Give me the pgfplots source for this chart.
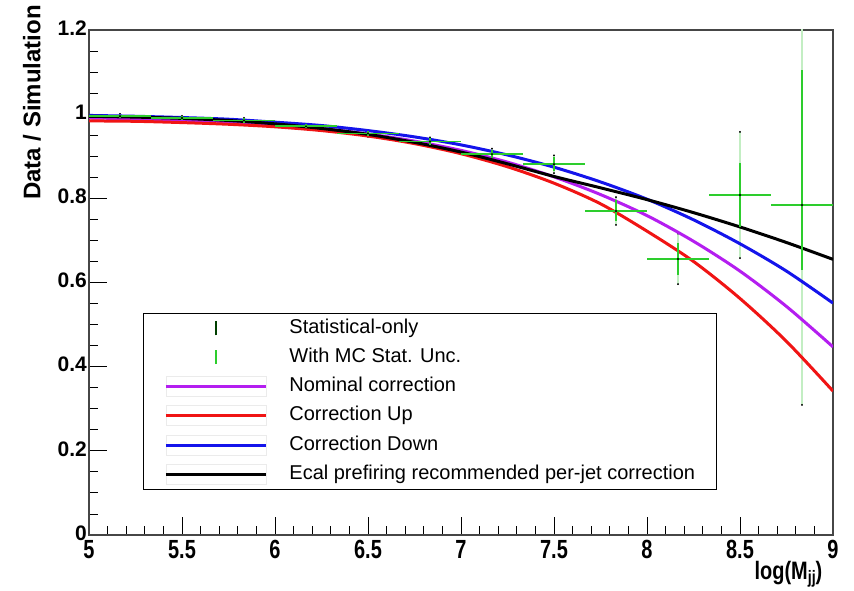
\documentclass[border=0pt]{standalone}
\usepackage{pgfplots}
\pgfplotsset{compat=1.18}
\usepackage{pgfplotstable}
\usepackage{graphicx}
\usepackage{fontspec}
\setmainfont{Liberation Sans}
\definecolor{mcgreen}{RGB}{45,205,45}
\definecolor{statgreen}{RGB}{195,238,195}
\definecolor{nomcol}{RGB}{180,30,240}
\definecolor{upcol}{RGB}{240,20,20}
\definecolor{downcol}{RGB}{20,20,235}
\definecolor{framegray}{RGB}{70,70,70}

\pgfplotstableread{
x    mag   red   blue  black
5.00 0.991 0.984 0.997 0.995
5.25 0.989 0.983 0.995 0.993
5.50 0.986 0.980 0.992 0.990
5.75 0.982 0.976 0.988 0.985
6.00 0.975 0.970 0.981 0.977
6.25 0.966 0.961 0.973 0.966
6.50 0.953 0.948 0.961 0.952
6.75 0.936 0.930 0.946 0.933
7.00 0.914 0.906 0.927 0.910
7.25 0.886 0.875 0.903 0.882
7.50 0.851 0.836 0.874 0.852
7.75 0.809 0.787 0.839 0.825
8.00 0.759 0.722 0.798 0.797
8.25 0.698 0.650 0.749 0.766
8.50 0.627 0.562 0.692 0.732
8.75 0.543 0.460 0.627 0.695
9.00 0.447 0.342 0.551 0.655
}\curves

\pgfplotstableread{
x      y     ex     stat  mcp   mcm
5.1667 0.995 0.1667 0.006 0.004 0.004
5.5000 0.991 0.1667 0.005 0.004 0.004
5.8333 0.985 0.1667 0.006 0.005 0.005
6.1667 0.971 0.1667 0.006 0.005 0.005
6.5000 0.954 0.1667 0.008 0.006 0.006
6.8333 0.935 0.1667 0.010 0.008 0.008
7.1667 0.905 0.1667 0.013 0.010 0.010
7.5000 0.881 0.1667 0.021 0.017 0.017
7.8333 0.770 0.1667 0.033 0.025 0.025
8.1667 0.656 0.1667 0.060 0.038 0.038
8.5000 0.808 0.1667 0.150 0.077 0.077
8.8333 0.784 0.1667 0.475 0.321 0.154
}\points

\begin{document}
\begin{tikzpicture}
\begin{axis}[
  scale only axis, width=744pt, height=505pt,
  xmin=5, xmax=9, ymin=0, ymax=1.2,
  xtick={5,5.5,6,6.5,7,7.5,8,8.5,9},
  ytick={0,0.2,0.4,0.6,0.8,1,1.2},
  minor x tick num=4, minor y tick num=3,
  xtick pos=bottom, ytick pos=left, tick align=inside,
  major tick length=18pt, minor tick length=9pt,
  axis line style={framegray, line width=1.6pt},
  tick style={black, line width=0.9pt},
  /pgf/number format/assume math mode=true,
  tick label style={font=\fontsize{21}{21}\selectfont\bfseries},
  xticklabel={\scalebox{0.95}[1.25]{\pgfmathprintnumber{\tick}}},
  xticklabel style={inner ysep=5pt},
  yticklabel style={inner xsep=2pt, yshift=2pt},
  xlabel={\scalebox{0.95}[1.2]{log(M\raisebox{-3.5pt}{\fontsize{15}{15}\selectfont jj})}},
  xlabel style={at={(axis description cs:0.986,-0.052)}, anchor=north east, inner sep=0pt, font=\fontsize{21}{21}\selectfont\bfseries},
  ylabel={Data / Simulation},
  ylabel style={at={(axis description cs:-0.0766,1.0495)}, anchor=east, inner sep=0pt, font=\fontsize{24}{24}\selectfont\bfseries},
  legend cell align=left,
  legend style={at={(axis description cs:0.0726,0.4396)}, anchor=north west,
    draw=black, line width=0.8pt, fill=white,
    font=\fontsize{20}{20}\selectfont,
    inner xsep=21pt, inner ysep=5pt, row sep=8.8pt, column sep=22pt,
    nodes={inner sep=0pt, text height=15pt, text depth=5pt}},
]
\addlegendimage{legend image code/.code={\path[draw=none] (0pt,0pt) -- (100pt,0pt); \draw[black!50!green!50!black, line width=1.3pt] (50pt,-7pt) -- (50pt,7pt);}}
\addlegendentry{Statistical-only}
\addlegendimage{legend image code/.code={\path[draw=none] (0pt,0pt) -- (100pt,0pt); \draw[mcgreen, line width=1.5pt] (50pt,-7pt) -- (50pt,7pt);}}
\addlegendentry{With MC Stat. Unc.}
\addlegendimage{legend image code/.code={\draw[black!8, line width=0.6pt] (0pt,-10pt) rectangle (100pt,10pt); \draw[nomcol, line width=3pt] (0pt,0pt) -- (100pt,0pt);}}
\addlegendentry{Nominal correction}
\addlegendimage{legend image code/.code={\draw[black!8, line width=0.6pt] (0pt,-10pt) rectangle (100pt,10pt); \draw[upcol, line width=3pt] (0pt,0pt) -- (100pt,0pt);}}
\addlegendentry{Correction Up}
\addlegendimage{legend image code/.code={\draw[black!8, line width=0.6pt] (0pt,-10pt) rectangle (100pt,10pt); \draw[downcol, line width=3pt] (0pt,0pt) -- (100pt,0pt);}}
\addlegendentry{Correction Down}
\addlegendimage{legend image code/.code={\draw[black!8, line width=0.6pt] (0pt,-10pt) rectangle (100pt,10pt); \draw[black, line width=3pt] (0pt,0pt) -- (100pt,0pt);}}
\addlegendentry{Ecal prefiring recommended per-jet correction}

\addplot[forget plot, draw=none, mark=none,
  error bars/.cd, y dir=both, y explicit,
  error bar style={statgreen, line width=1.2pt},
  error mark=*, error mark options={black, fill=black, mark size=0.7pt}]
  table[x=x, y=y, y error=stat] {\points};

\addplot[forget plot, nomcol, line width=3pt, smooth] table[x=x, y=mag] {\curves};
\addplot[forget plot, upcol, line width=3pt, smooth] table[x=x, y=red] {\curves};
\addplot[forget plot, downcol, line width=3pt, smooth] table[x=x, y=blue] {\curves};
\addplot[forget plot, black, line width=3pt, smooth] table[x=x, y=black] {\curves};

\addplot[forget plot, only marks, mark=*, mark size=0.8pt, black,
  error bars/.cd, x dir=both, x explicit, y dir=both, y explicit,
  error bar style={mcgreen, line width=1.8pt}, error mark=none]
  table[x=x, y=y, x error=ex, y error plus=mcp, y error minus=mcm] {\points};

\coordinate (bl) at (rel axis cs:0,0);
\coordinate (tr) at (rel axis cs:1,1);
\end{axis}
\pgfresetboundingbox
\path[use as bounding box] ([shift={(-89pt,-55pt)}]bl) rectangle ([shift={(21pt,30pt)}]tr);
\end{tikzpicture}
\end{document}
